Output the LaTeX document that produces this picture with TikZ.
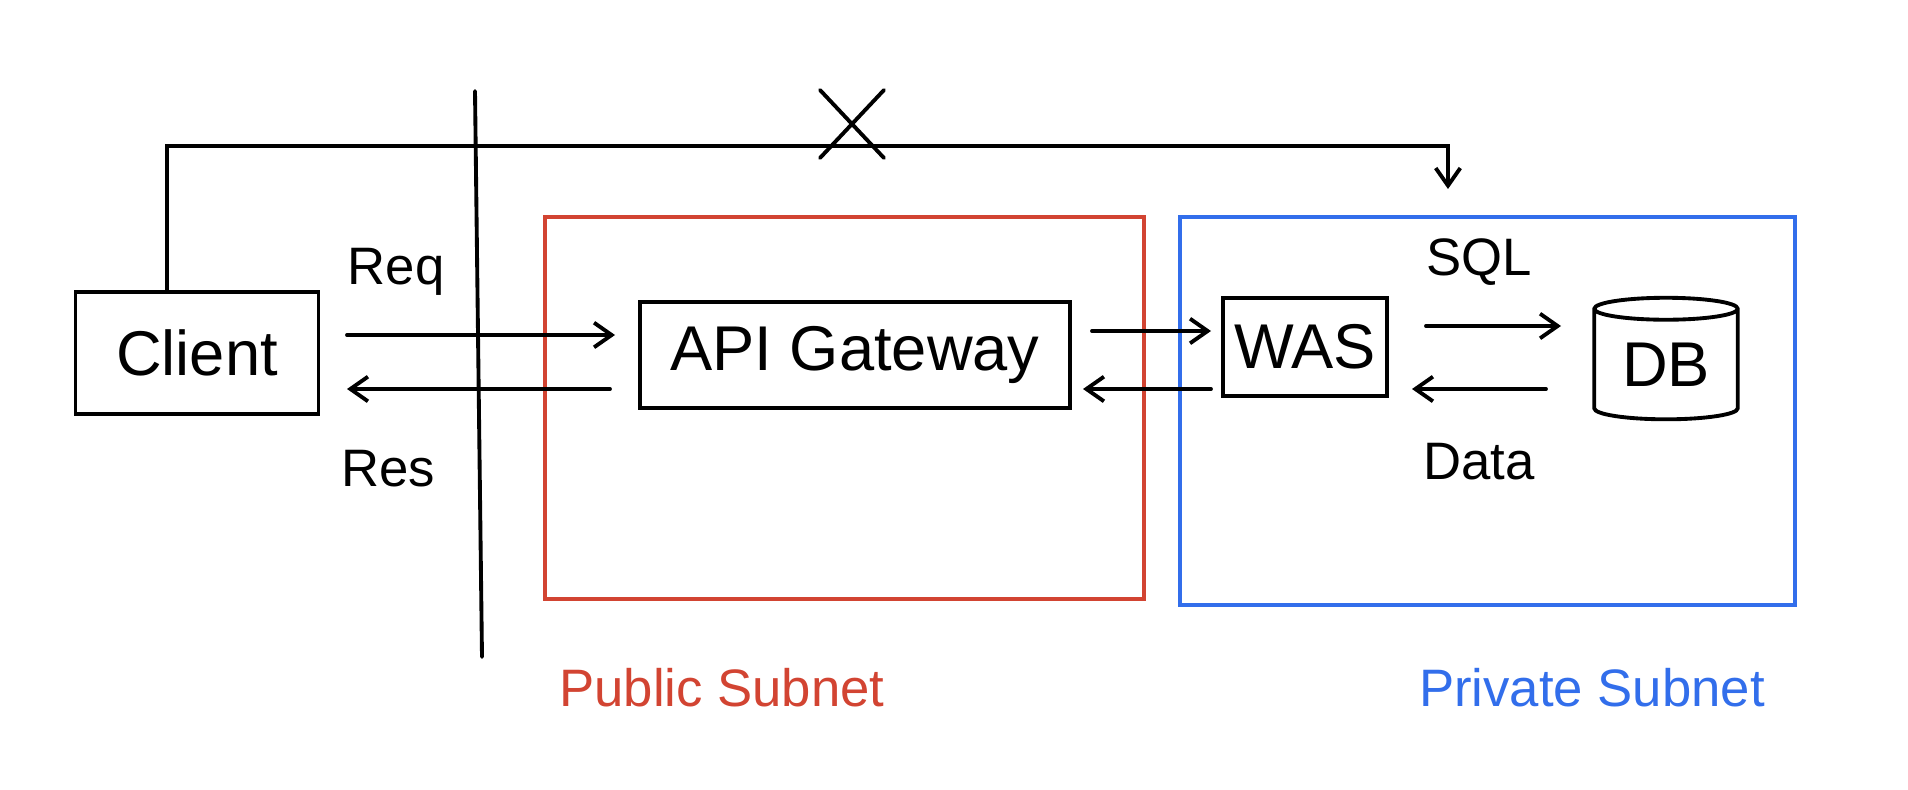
\documentclass[tikz,border=0pt]{standalone}
\usepackage{fontspec}
\setmainfont{Liberation Sans}
\usetikzlibrary{shapes.geometric,arrows.meta}
\definecolor{pubred}{RGB}{210,68,50}
\definecolor{privblue}{RGB}{50,110,235}
\begin{document}
\begin{tikzpicture}[x=0.02cm,y=-0.02cm,line width=2.2pt,line cap=round,
  box/.style={draw,minimum width=#1,inner sep=0pt,font=\fontsize{36}{40}\selectfont},
  lbl/.style={font=\fontsize{30}{34}\selectfont},
  arr/.style={-{Straight Barb[length=10pt,width=14pt]}}]
\useasboundingbox (0,0) rectangle (1908,790);
\node[box=244pt*0.567, minimum height=122*0.567pt] (client) at (197,353) {Client};
\draw (475,91) -- (482,657);
\draw[pubred] (545,217) rectangle (1144,599);
\draw[privblue] (1180,217) rectangle (1795,605);
\node[box=432*0.567pt, minimum height=106*0.567pt] (api) at (855,355) {API Gateway};
\node[box=164*0.567pt, minimum height=98*0.567pt] (was) at (1305,347) {WAS};
\node[cylinder,shape border rotate=90,draw,aspect=0.25,minimum width=144*0.567pt,minimum height=122*0.567pt,inner sep=0pt,font=\fontsize{36}{40}\selectfont] (db) at (1666,365) {DB};
\coordinate (t1) at (167,146); \coordinate (t2) at (1448,146); \coordinate (t3) at (1448,189);
\draw[arr] (client.north west -| 167,0) -- (t1) -- (t2) -- (t3);
\draw (820,90) -- (884,158) (884,90) -- (820,158);
\draw[arr] (347,335) -- (615,335);
\draw[arr] (610,389) -- (347,389);
\draw[arr] (1092,331) -- (1211,331);
\draw[arr] (1211,389) -- (1083,389);
\draw[arr] (1426,326) -- (1561,326);
\draw[arr] (1546,389) -- (1412,389);
\node[lbl] (req) at (396,272) {Req};
\node[lbl] (res) at (388,469) {Res};
\node[lbl] (sql) at (1479,262) {SQL};
\node[lbl] (data) at (1479,462) {Data};
\node[lbl,text=pubred] (pub) at (722,688) {Public Subnet};
\node[lbl,text=privblue] (priv) at (1592,688) {Private Subnet};
\end{tikzpicture}
\end{document}
